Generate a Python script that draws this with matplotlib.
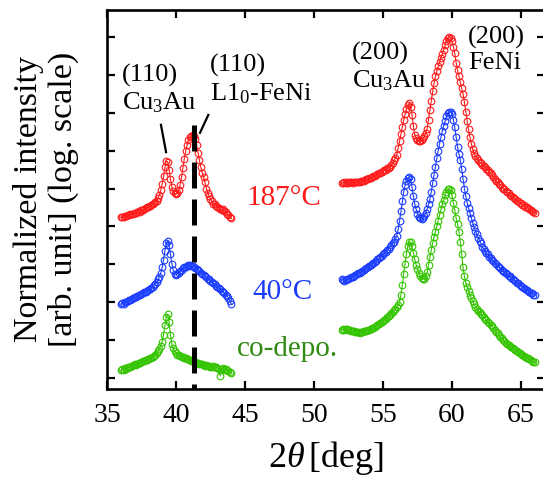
import numpy as np
import matplotlib
matplotlib.use("Agg")
import matplotlib.pyplot as plt
from matplotlib.ticker import FixedLocator, NullLocator, NullFormatter

plt.rcParams["font.family"] = ["Liberation Serif", "DejaVu Serif"]
plt.rcParams["mathtext.fontset"] = "custom"
plt.rcParams["mathtext.rm"] = "Liberation Serif"
plt.rcParams["mathtext.it"] = "Liberation Serif:italic"

# 2theta scan grids (deg) for the two measured windows
two_theta_low = np.round(np.arange(36.0, 44.0 + 1e-9, 0.1), 1)
two_theta_high = np.round(np.arange(52.0, 66.0 + 1e-9, 0.1), 1)

# log10 of normalized intensity (vertically offset per sample), 36-44 deg
log_int_187_low = [
    4.24, 4.26, 4.25, 4.28, 4.27, 4.30, 4.29, 4.32, 4.33, 4.32,
    4.36, 4.35, 4.38, 4.40, 4.39, 4.43, 4.44, 4.46, 4.48, 4.50,
    4.52, 4.54, 4.56, 4.58, 4.61, 4.64, 4.68, 4.74, 4.83, 4.96,
    5.12, 5.32, 5.56, 5.73, 5.70, 5.50, 5.24, 5.04, 4.93, 4.87,
    4.85, 4.88, 4.96, 5.10, 5.30, 5.54, 5.78, 5.98, 6.14, 6.27,
    6.35, 6.39, 6.41, 6.38, 6.30, 6.14, 5.94, 5.74, 5.56, 5.42,
    5.31, 5.16, 5.00, 4.89, 4.80, 4.72, 4.66, 4.60, 4.58, 4.55,
    4.52, 4.49, 4.47, 4.44, 4.45, 4.41, 4.38, 4.34, 4.30, 4.26,
    4.21,
]
log_int_40_low = [
    1.95, 1.97, 1.96, 2.00, 2.01, 2.03, 2.05, 2.06, 2.09, 2.10,
    2.13, 2.14, 2.16, 2.19, 2.20, 2.22, 2.24, 2.26, 2.28, 2.30,
    2.32, 2.35, 2.38, 2.41, 2.45, 2.49, 2.54, 2.60, 2.67, 2.77,
    2.92, 3.12, 3.36, 3.56, 3.62, 3.50, 3.26, 3.02, 2.84, 2.75,
    2.73, 2.75, 2.78, 2.82, 2.86, 2.89, 2.92, 2.94, 2.96, 2.97,
    2.97, 2.96, 2.95, 2.93, 2.91, 2.88, 2.85, 2.82, 2.78, 2.75,
    2.72, 2.69, 2.66, 2.62, 2.60, 2.56, 2.53, 2.50, 2.47, 2.43,
    2.41, 2.37, 2.34, 2.30, 2.28, 2.24, 2.20, 2.16, 2.10, 2.04,
    1.96,
]
log_int_codep_low = [
    0.20, 0.23, 0.22, 0.26, 0.25, 0.28, 0.30, 0.29, 0.33, 0.34,
    0.36, 0.35, 0.38, 0.40, 0.39, 0.42, 0.44, 0.45, 0.47, 0.48,
    0.50, 0.52, 0.54, 0.56, 0.59, 0.62, 0.66, 0.71, 0.77, 0.85,
    0.96, 1.14, 1.40, 1.62, 1.68, 1.48, 1.14, 0.90, 0.78, 0.70,
    0.65, 0.62, 0.60, 0.58, 0.56, 0.55, 0.53, 0.52, 0.50, 0.49,
    0.48, 0.46, 0.45, 0.44, 0.42, 0.40, 0.39, 0.37, 0.36, 0.37,
    0.35, 0.33, 0.34, 0.31, 0.32, 0.30, 0.29, 0.31, 0.28, 0.29,
    0.27, 0.24, 0.05, 0.25, 0.26, 0.22, 0.24, 0.20, 0.19, 0.16,
    0.13,
]

# log10 of normalized intensity (vertically offset per sample), 52-66 deg
log_int_187_high = [
    5.15, 5.15, 5.16, 5.15, 5.16, 5.15, 5.16, 5.16, 5.15, 5.16,
    5.16, 5.17, 5.17, 5.18, 5.19, 5.20, 5.21, 5.22, 5.24, 5.25,
    5.27, 5.29, 5.30, 5.32, 5.34, 5.36, 5.38, 5.40, 5.42, 5.44,
    5.46, 5.48, 5.50, 5.53, 5.55, 5.58, 5.62, 5.68, 5.74, 5.80,
    5.88, 6.06, 6.25, 6.44, 6.62, 6.80, 6.96, 7.10, 7.20, 7.25,
    7.16, 6.95, 6.65, 6.42, 6.32, 6.27, 6.25, 6.26, 6.28, 6.32,
    6.38, 6.46, 6.58, 6.82, 7.07, 7.32, 7.56, 7.78, 7.96, 8.10,
    8.22, 8.34, 8.45, 8.56, 8.66, 8.78, 8.90, 8.98, 9.01, 8.97,
    8.88, 8.74, 8.58, 8.32, 8.12, 7.96, 7.80, 7.65, 7.50, 7.28,
    7.02, 6.78, 6.56, 6.36, 6.18, 6.04, 5.94, 5.86, 5.80, 5.74,
    5.70, 5.66, 5.63, 5.60, 5.56, 5.52, 5.49, 5.44, 5.40, 5.36,
    5.31, 5.26, 5.20, 5.16, 5.13, 5.10, 5.05, 5.00, 4.98, 4.94,
    4.90, 4.88, 4.84, 4.80, 4.78, 4.74, 4.72, 4.68, 4.66, 4.63,
    4.61, 4.57, 4.56, 4.52, 4.50, 4.48, 4.45, 4.43, 4.41, 4.38,
    4.36,
]
log_int_40_high = [
    2.60, 2.58, 2.57, 2.59, 2.60, 2.62, 2.64, 2.66, 2.67, 2.70,
    2.72, 2.74, 2.76, 2.78, 2.80, 2.82, 2.85, 2.87, 2.90, 2.93,
    2.95, 2.98, 3.01, 3.04, 3.07, 3.10, 3.13, 3.16, 3.19, 3.22,
    3.26, 3.29, 3.33, 3.37, 3.41, 3.45, 3.50, 3.55, 3.60, 3.66,
    3.76, 3.92, 4.14, 4.40, 4.66, 4.90, 5.08, 5.20, 5.28, 5.31,
    5.24, 5.04, 4.80, 4.60, 4.45, 4.34, 4.26, 4.22, 4.20, 4.22,
    4.28, 4.36, 4.46, 4.58, 4.72, 4.92, 5.14, 5.36, 5.58, 5.80,
    6.00, 6.18, 6.36, 6.52, 6.66, 6.78, 6.90, 6.98, 7.02, 7.03,
    6.96, 6.82, 6.62, 6.36, 6.10, 5.92, 5.76, 5.52, 5.26, 5.00,
    4.80, 4.62, 4.48, 4.36, 4.22, 4.10, 3.98, 3.88, 3.79, 3.70,
    3.62, 3.55, 3.46, 3.40, 3.35, 3.30, 3.26, 3.20, 3.16, 3.12,
    3.08, 3.04, 3.00, 2.96, 2.93, 2.90, 2.86, 2.82, 2.80, 2.77,
    2.74, 2.70, 2.68, 2.64, 2.62, 2.58, 2.56, 2.52, 2.50, 2.46,
    2.44, 2.40, 2.38, 2.35, 2.33, 2.30, 2.28, 2.25, 2.23, 2.20,
    2.18,
]
log_int_codep_high = [
    1.27, 1.28, 1.27, 1.29, 1.28, 1.27, 1.27, 1.25, 1.24, 1.23,
    1.22, 1.21, 1.21, 1.20, 1.21, 1.22, 1.23, 1.24, 1.25, 1.26,
    1.27, 1.29, 1.31, 1.33, 1.35, 1.37, 1.40, 1.42, 1.45, 1.48,
    1.50, 1.53, 1.57, 1.60, 1.64, 1.67, 1.71, 1.75, 1.79, 1.83,
    1.87, 1.92, 2.00, 2.20, 2.45, 2.74, 3.02, 3.28, 3.48, 3.60,
    3.58, 3.47, 3.30, 3.13, 2.99, 2.87, 2.77, 2.69, 2.64, 2.61,
    2.62, 2.68, 2.80, 2.98, 3.18, 3.38, 3.56, 3.72, 3.86, 4.00,
    4.15, 4.30, 4.45, 4.58, 4.70, 4.82, 4.92, 4.98, 5.00, 4.95,
    4.82, 4.62, 4.42, 4.22, 4.06, 3.86, 3.60, 3.28, 2.92, 2.68,
    2.52, 2.40, 2.30, 2.20, 2.11, 2.02, 1.95, 1.88, 1.83, 1.78,
    1.73, 1.69, 1.65, 1.61, 1.57, 1.52, 1.48, 1.44, 1.40, 1.36,
    1.32, 1.27, 1.22, 1.18, 1.13, 1.09, 1.05, 1.01, 0.97, 0.93,
    0.90, 0.87, 0.84, 0.82, 0.79, 0.76, 0.73, 0.71, 0.68, 0.66,
    0.63, 0.61, 0.58, 0.56, 0.54, 0.52, 0.49, 0.47, 0.45, 0.43,
    0.41,
]

sample_labels = ["187\u00b0C", "40\u00b0C", "co-depo."]
line_colors = ["#ff1a1a", "#1a3cff", "#33c400"]
label_colors = ["#ff1a1a", "#1a3cff", "#2e8a12"]
label_pos = [(47.85, 4.75), (47.7, 2.27), (48.1, 0.77)]

x_ticks = [35, 40, 45, 50, 55, 60, 65]
y_decades = list(range(0, 10))
l10_feni_110 = 41.33

fig = plt.figure(figsize=(5.43, 4.82), dpi=100)
ax = fig.add_axes([107 / 543, 93 / 482, 438 / 543, 379 / 482])
ax.set_yscale("log")

low_sets = [log_int_187_low, log_int_40_low, log_int_codep_low]
high_sets = [log_int_187_high, log_int_40_high, log_int_codep_high]
for lo, hi, c in zip(low_sets, high_sets, line_colors):
    for tt, vals in ((two_theta_low, lo), (two_theta_high, hi)):
        ax.plot(tt, 10 ** np.asarray(vals), color=c, lw=0.8, marker="o",
                ms=4.8, mfc="none", mec=c, mew=0.8)

for text, (x, y), c in zip(sample_labels, label_pos, label_colors):
    ax.text(x, 10 ** y, text, color=c, fontsize=21, ha="center", va="center")

# L1_0-FeNi (110) reference position
ax.plot([l10_feni_110, l10_feni_110], [10 ** 6.68, 10 ** -0.5], color="black",
        lw=3.6, dashes=(5.2, 2.2), solid_capstyle="butt", dash_capstyle="butt")

# peak assignments
ax.text(36.07, 10 ** 7.62, "(110)\nCu$_3$Au", fontsize=19, ha="left", va="center",
        linespacing=1.2)
ax.text(42.46, 10 ** 7.86, "(110)\nL1$_0$-FeNi", fontsize=19, ha="left", va="center",
        linespacing=1.2)
ax.text(52.73, 10 ** 8.2, "(200)\nCu$_3$Au", fontsize=19, ha="left", va="center",
        linespacing=1.2)
ax.text(61.16, 10 ** 8.66, "(200)\nFeNi", fontsize=19, ha="left", va="center",
        linespacing=1.2)
ax.plot([38.91, 39.28], [10 ** 6.68, 10 ** 5.96], color="black", lw=1.6)
ax.plot([42.34, 41.74], [10 ** 6.94, 10 ** 6.47], color="black", lw=1.6)

ax.set_xlim(35, 66.74)
ax.set_ylim(10 ** -0.29, 10 ** 9.71)
ax.xaxis.set_major_locator(FixedLocator(x_ticks))
ax.yaxis.set_major_locator(FixedLocator([10.0 ** d for d in y_decades]))
ax.yaxis.set_minor_locator(NullLocator())
ax.yaxis.set_major_formatter(NullFormatter())
ax.yaxis.set_minor_formatter(NullFormatter())
ax.tick_params(axis="both", which="major", direction="in", length=6, width=1.6,
               top=True, right=True, labelsize=20, pad=10)
for sp in ax.spines.values():
    sp.set_linewidth(1.9)

ax.set_xlabel(r"2$\theta\,$[deg]", fontsize=26, labelpad=8)
ax.set_ylabel("Normalized intensity\n[arb. unit] (log. scale)", fontsize=24.5,
              labelpad=10, linespacing=1.15)

fig.savefig("out.png", dpi=100)
